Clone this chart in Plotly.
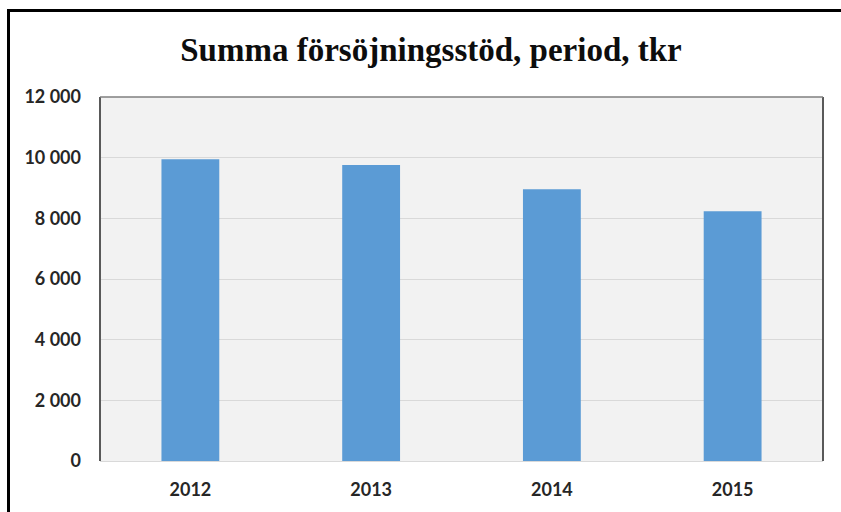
import plotly.graph_objects as go

years = ["2012", "2013", "2014", "2015"]
values = [9950, 9760, 8960, 8230]
y_tickvals = [0, 2000, 4000, 6000, 8000, 10000, 12000]
y_ticktext = ["0", "2 000", "4 000", "6 000", "8 000", "10 000", "12 000"]

W, H = 841, 512
ml, mr, mt, mb = 100, 18, 97, 51
pw, ph = W - ml - mr, H - mt - mb


def px_x(x):
    return (x - ml) / pw


def px_y(y):
    return (H - mb - y) / ph


fig = go.Figure(
    go.Bar(
        x=years,
        y=values,
        marker=dict(color="#5b9bd5", line=dict(width=0)),
    )
)

tick_font = dict(family="Lato, 'Open Sans', sans-serif", size=18, color="#262626", weight="bold")

fig.update_layout(
    width=W,
    height=H,
    margin=dict(l=ml, r=mr, t=mt, b=mb),
    paper_bgcolor="white",
    plot_bgcolor="#f2f2f2",
    bargap=0.68,
    showlegend=False,
    title=dict(
        text="<b>Summa försöjningsstöd, period, tkr</b>",
        font=dict(family="'Liberation Serif', 'Times New Roman', serif", size=33, color="#0d0d0d"),
        xref="container",
        x=431 / W,
        xanchor="center",
        y=1 - 49 / H,
        yanchor="middle",
    ),
    xaxis=dict(
        tickfont=tick_font,
        showgrid=False,
        showline=True,
        linecolor="#d9d9d9",
        linewidth=1,
        ticks="",
        ticklabelstandoff=12,
    ),
    yaxis=dict(
        range=[0, 12000],
        tickvals=y_tickvals,
        ticktext=y_ticktext,
        tickfont=tick_font,
        showgrid=True,
        gridcolor="#d9d9d9",
        gridwidth=1,
        zeroline=False,
        showline=False,
        ticks="",
        ticklabelstandoff=18,
    ),
    shapes=[
        # plot-area frame
        dict(type="line", xref="paper", yref="paper", x0=0, x1=0, y0=0, y1=1,
             line=dict(color="#595959", width=2)),
        dict(type="line", xref="paper", yref="paper", x0=1, x1=1, y0=0, y1=1,
             line=dict(color="#595959", width=2)),
        dict(type="line", xref="paper", yref="paper", x0=0, x1=1, y0=1, y1=1,
             line=dict(color="#7f7f7f", width=1.5)),
        # outer chart border
        dict(type="line", xref="paper", yref="paper", x0=px_x(8.5), x1=px_x(8.5),
             y0=px_y(10), y1=px_y(H + 5), line=dict(color="black", width=3)),
        dict(type="line", xref="paper", yref="paper", x0=px_x(7), x1=px_x(W + 5),
             y0=px_y(10.5), y1=px_y(10.5), line=dict(color="black", width=3)),
    ],
)

fig.write_html("out.html")
